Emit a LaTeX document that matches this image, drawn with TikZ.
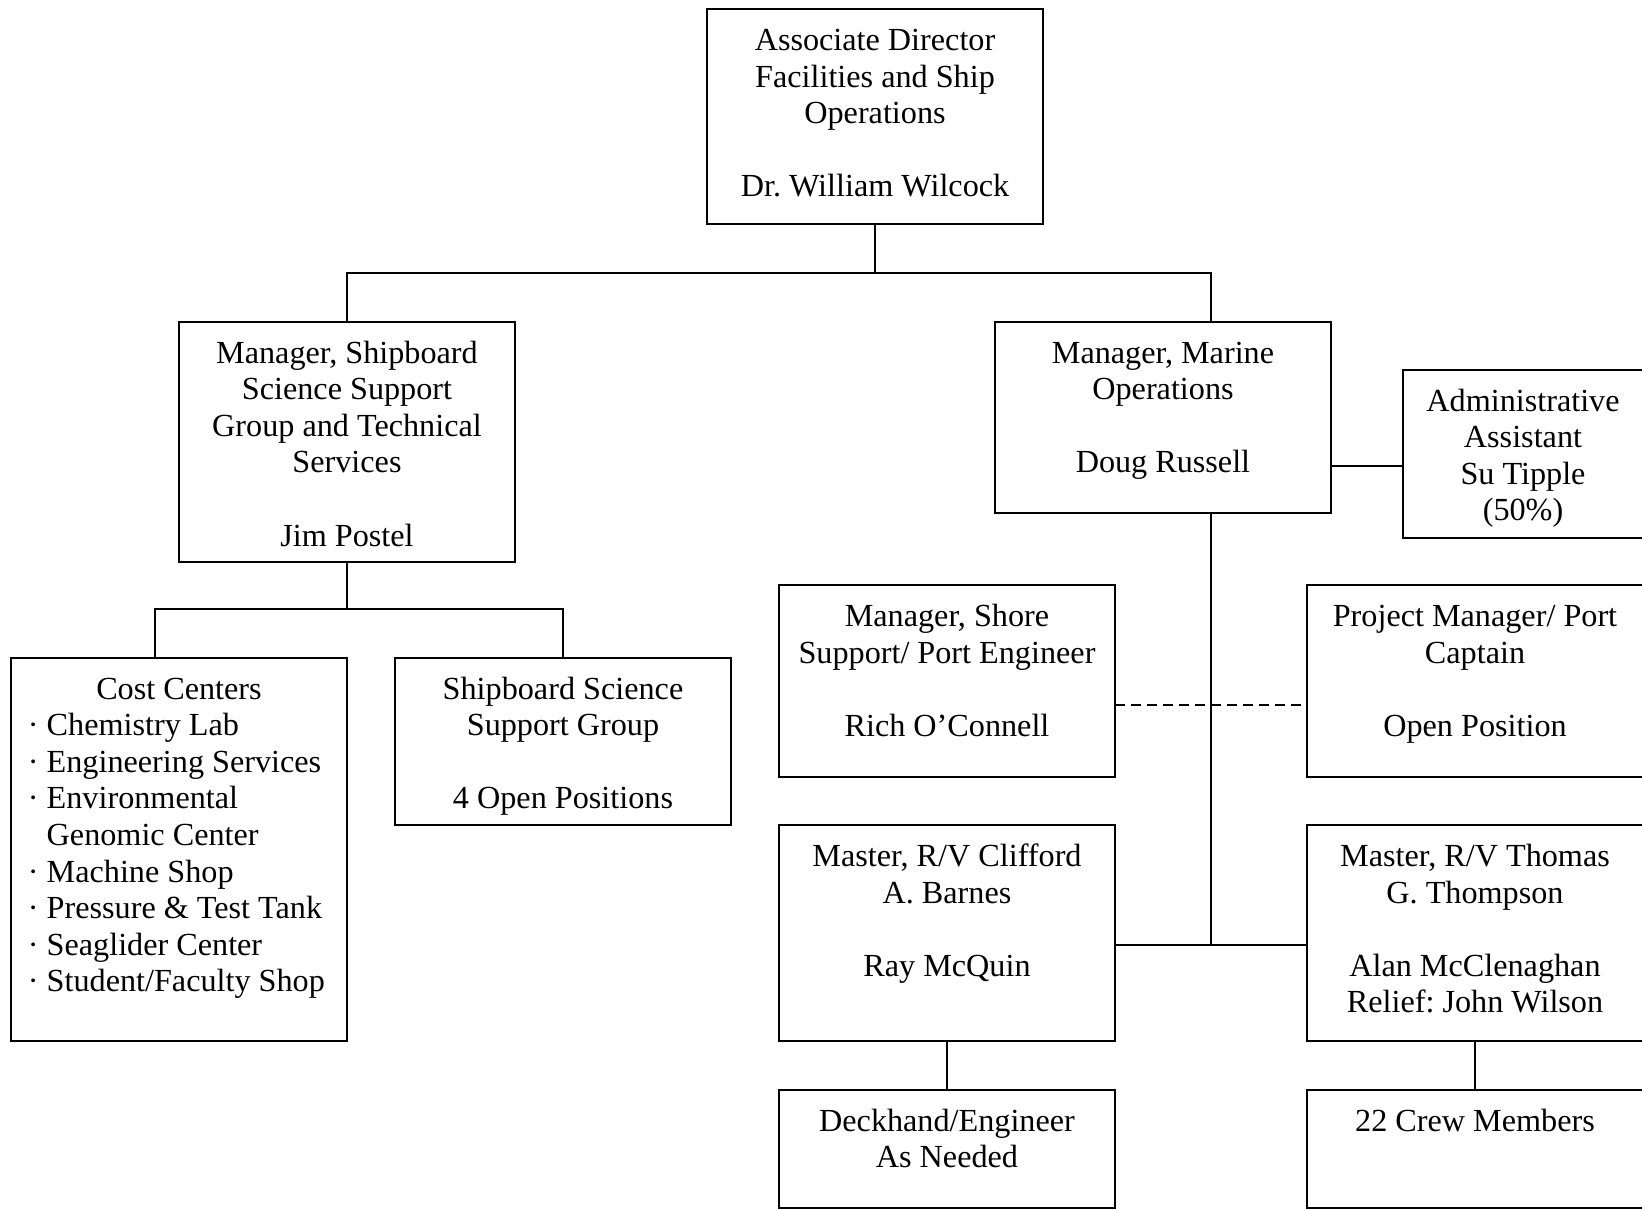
\documentclass[tikz,border=0pt]{standalone}
\usepackage{fontspec}
\setmainfont{Liberation Serif}
\frenchspacing
\newcommand{\boxtxt}[3]{\parbox[c][#1][t]{#2}{\centering\rule{0pt}{41.5pt}#3}}
\begin{document}
\begin{tikzpicture}[x=1pt,y=-1pt,
  box/.style={draw, line width=2pt, rectangle, inner sep=0pt, outer sep=0pt, anchor=north west,
    font=\fontsize{32.2}{36.6}\selectfont\frenchspacing},
  conn/.style={line width=2pt},
  dconn/.style={line width=2pt, dash pattern=on 10pt off 6pt}]
\useasboundingbox (0,0) rectangle (1642,1209);
\clip (0,0) rectangle (1642,1209);

\node[box] (top) at (707,9) {\boxtxt{215pt}{336pt}{Associate Director\\Facilities and Ship\\Operations\\[36.6pt]Dr. William Wilcock}};

\node[box] (mgrL) at (179,321.5) {\boxtxt{240pt}{336pt}{Manager, Shipboard\\Science Support\\Group and Technical\\Services\\[36.6pt]Jim Postel}};

\node[box] (marine) at (995,321.5) {\boxtxt{191.5pt}{336pt}{Manager, Marine\\Operations\\[36.6pt]Doug Russell}};

\node[box] (admin) at (1403,369.5) {\boxtxt{168pt}{240pt}{Administrative\\Assistant\\Su Tipple\\(50\%)}};

\node[box] (cost) at (11,657.5) {\parbox[c][383.5pt][t]{336pt}{\centering\rule{0pt}{41.5pt}Cost Centers\par
  \raggedright\leftskip=17pt
  ·\hspace{8pt}Chemistry Lab\\
  ·\hspace{8pt}Engineering Services\\
  ·\hspace{8pt}Environmental\\
  \phantom{·}\hspace{8pt}Genomic Center\\
  ·\hspace{8pt}Machine Shop\\
  ·\hspace{8pt}Pressure \& Test Tank\\
  ·\hspace{8pt}Seaglider Center\\
  ·\hspace{8pt}Student/Faculty Shop\par}};

\node[box] (ship) at (395,657.5) {\boxtxt{167.5pt}{336pt}{Shipboard Science\\Support Group\\[36.6pt]4 Open Positions}};

\node[box] (shore) at (779,585) {\boxtxt{192pt}{336pt}{Manager, Shore\\Support/ Port Engineer\\[36.6pt]Rich O’Connell}};

\node[box] (proj) at (1307,585) {\boxtxt{192pt}{336pt}{Project Manager/ Port\\Captain\\[36.6pt]Open Position}};

\node[box] (clif) at (779,825) {\boxtxt{216pt}{336pt}{Master, R/V Clifford\\A. Barnes\\[36.6pt]Ray McQuin}};

\node[box] (thom) at (1307,825) {\boxtxt{216pt}{336pt}{Master, R/V Thomas\\G. Thompson\\[36.6pt]Alan McClenaghan\\Relief: John Wilson}};

\node[box] (deck) at (779,1089.5) {\boxtxt{118.5pt}{336pt}{Deckhand/Engineer\\As Needed}};

\node[box] (crew) at (1307,1089.5) {\boxtxt{118.5pt}{336pt}{22 Crew Members}};

% connectors
\coordinate (j1) at (875,273);
\draw[conn] (top.south) -- (j1);
\draw[conn] (mgrL.north) |- (j1) -| ([xshift=48pt]marine.north);

\coordinate (j2) at (347,609);
\draw[conn] (mgrL.south) -- (j2);
\draw[conn] ([xshift=-24pt]cost.north) |- (j2) -| (ship.north);

\path ([yshift=-49pt]marine.east) coordinate (a1);
\draw[conn] (a1) -- (a1 -| admin.west);

\coordinate (j3) at (1211,945);
\draw[conn] ([xshift=48pt]marine.south) -- (j3);
\draw[conn] ([yshift=-12pt]clif.east) -- ([yshift=-12pt]thom.west);

\draw[dconn] ([yshift=-24pt]shore.east) -- ([yshift=-24pt]proj.west);

\draw[conn] (clif.south) -- (deck.north);
\draw[conn] (thom.south) -- (crew.north);
\end{tikzpicture}
\end{document}
